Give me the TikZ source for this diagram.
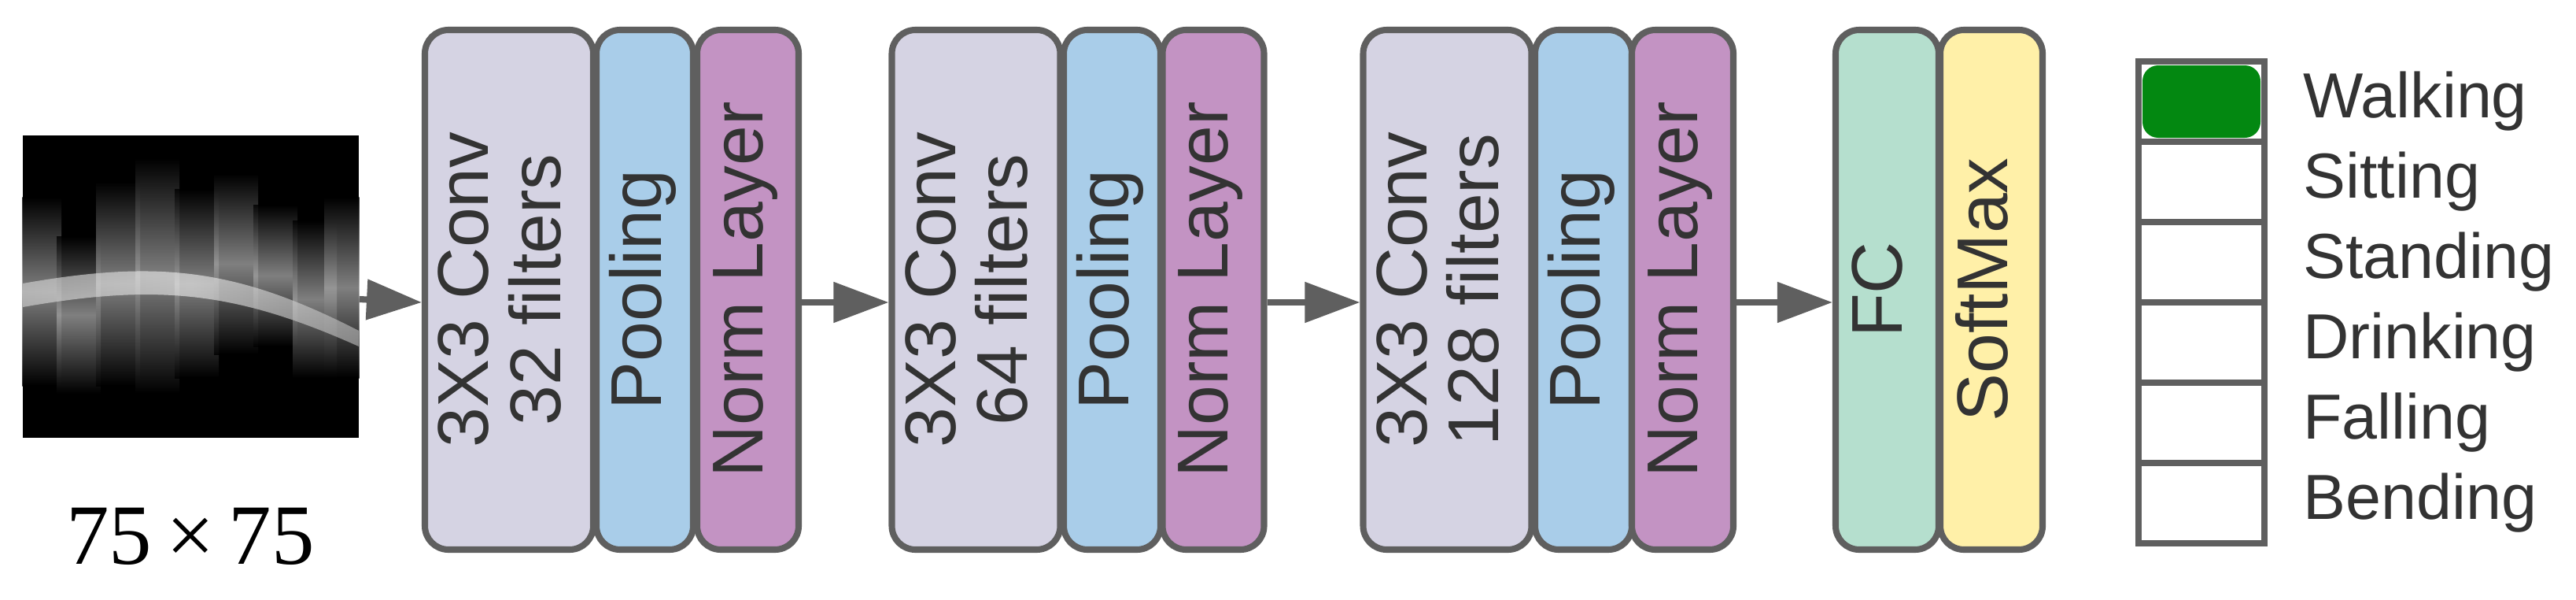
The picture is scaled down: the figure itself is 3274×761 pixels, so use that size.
\documentclass[tikz,border=0pt]{standalone}
\usepackage{fontspec}
\setmainfont{Liberation Sans}
\newfontfamily\serifnum{Liberation Serif}
\usepackage{tikz}
\usetikzlibrary{arrows.meta,positioning}

\definecolor{linegray}{HTML}{5F5F5F}
\definecolor{txtgray}{HTML}{333333}
\definecolor{convcol}{HTML}{D5D3E3}
\definecolor{poolcol}{HTML}{A9CDE9}
\definecolor{normcol}{HTML}{C393C3}
\definecolor{fccol}{HTML}{B5DFCE}
\definecolor{softcol}{HTML}{FFF0A8}
\definecolor{walkcol}{HTML}{038811}

\tikzset{
    layer/.style={draw=linegray, line width=2.3pt, rounded corners=3mm,
        minimum height=66mm, inner sep=0pt, text=txtgray,
        font=\fontsize{26}{28}\selectfont},
    conv/.style={layer, fill=convcol, minimum width=21.4mm},
    pool/.style={layer, fill=poolcol, minimum width=12.3mm},
    norm/.style={layer, fill=normcol, minimum width=12.9mm},
    cell/.style={draw=linegray, line width=2.3pt, fill=white,
        minimum width=16mm, minimum height=10.2mm, inner sep=0pt},
    lbl/.style={anchor=west, text=txtgray, font=\fontsize{23}{28}\selectfont},
    flow/.style={draw=linegray, line width=2.3pt,
        -{Triangle[length=7mm,width=5mm]}}
}

\newcommand{\vtext}[1]{\rotatebox{90}{\renewcommand{\arraystretch}{0.85}\begin{tabular}{c}#1\end{tabular}}}

\begin{document}
\begin{tikzpicture}[x=0.1mm, y=-0.1mm]
    \useasboundingbox (0,0) rectangle (3274,761);

    % input spectrogram
    \node[fill=black, minimum width=42.7mm, minimum height=38.4mm,
        inner sep=0pt] (img) at (242.5,364) {};
    \begin{scope}
        \clip (img.south west) rectangle (img.north east);
        \foreach \x/\h/\d in {50/250/240, 100/300/200, 150/230/260, 200/200/300,
                              250/240/240, 300/220/230, 350/260/180, 400/280/200, 440/250/230} {
            \shade[top color=black, bottom color=black, middle color=gray!75, opacity=0.8]
                (\x-28,\h) rectangle (\x+28,\h+\d);
        }
        \shade[left color=gray!30, right color=gray!50, middle color=gray!10, opacity=0.6]
            (29,360) .. controls (200,330) and (300,340) .. (456,420)
            -- (456,440) .. controls (300,370) and (200,360) .. (29,390) -- cycle;
    \end{scope}
    \node[font=\fontsize{31}{36}\selectfont] (size) at (242,681)
        {\serifnum 75\,×\,75};

    % block 1
    \node[conv] (conv1) at (647,368) {\vtext{3X3 Conv\\32 filters}};
    \node[pool] (pool1) at (819.5,368) {\vtext{Pooling}};
    \node[norm] (norm1) at (950.5,368) {\vtext{Norm Layer}};

    % block 2
    \node[conv] (conv2) at (1240.5,368) {\vtext{3X3 Conv\\64 filters}};
    \node[pool] (pool2) at (1413.5,368) {\vtext{Pooling}};
    \node[norm] (norm2) at (1542,368) {\vtext{Norm Layer}};

    % block 3
    \node[conv] (conv3) at (1839.5,368) {\vtext{3X3 Conv\\128 filters}};
    \node[pool] (pool3) at (2012.5,368) {\vtext{Pooling}};
    \node[norm] (norm3) at (2138.5,368) {\vtext{Norm Layer}};

    % classifier
    \node[layer, fill=fccol, minimum width=13.1mm] (fc) at (2398.5,368) {\vtext{FC}};
    \node[layer, fill=softcol, minimum width=13mm] (soft) at (2531,368) {\vtext{SoftMax}};

    % arrows
    \draw[flow] ([yshift=-1.6mm]img.east) -- ([yshift=-1.6mm]conv1.west);
    \draw[flow] ([yshift=-1.6mm]norm1.east) -- ([yshift=-1.6mm]conv2.west);
    \draw[flow] ([yshift=-1.6mm]norm2.east) -- ([yshift=-1.6mm]conv3.west);
    \draw[flow] ([yshift=-1.6mm]norm3.east) -- ([yshift=-1.6mm]fc.west);

    % output classes
    \foreach \name [count=\i from 0] in {Walking,Sitting,Standing,Drinking,Falling,Bending} {
        \node[cell] (cell\i) at (2798,129+102*\i) {};
        \node[lbl] (lbl\i) at (2915,129+102*\i) {\name};
    }
    \node[fill=walkcol, rounded corners=2mm, minimum width=15mm,
        minimum height=9.2mm] (walk) at (cell0) {};
\end{tikzpicture}
\end{document}
